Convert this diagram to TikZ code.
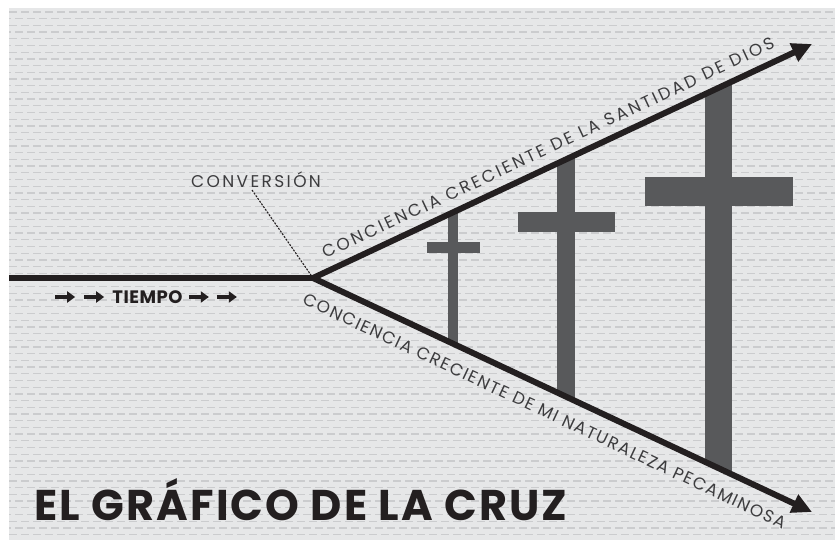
\documentclass[tikz,border=0pt]{standalone}
\usepackage{fontspec}
\setmainfont{Poppins}
\usetikzlibrary{arrows.meta,calc}
\definecolor{bggrey}{HTML}{E6E7E8}
\definecolor{dashgrey}{HTML}{CBCCCE}
\definecolor{crossgrey}{HTML}{58595B}
\definecolor{ink}{HTML}{231F20}
\definecolor{txtgrey}{HTML}{3C3C3E}
\tikzset{
  bgdash/.style={draw=dashgrey, line width=1.3pt, dash pattern=on 8pt off 4pt},
  mainline/.style={draw=ink, line width=6pt},
  arrowline/.style={mainline, -{Triangle[length=20pt,width=19pt]}},
  smallarrow/.style={draw=ink, line width=3.2pt, -{Triangle[length=8pt,width=11pt]}},
  crossfill/.style={fill=crossgrey},
  slopetext/.style={text=txtgrey, inner sep=0pt},
  convline/.style={draw=ink, line width=1.1pt, dash pattern=on 2pt off 1.3pt},
}
\begin{document}
\begin{tikzpicture}[x=1pt,y=-1pt]
\useasboundingbox (0,0) rectangle (835,540);
\fill[white] (0,0) rectangle (835,540);
\fill[bggrey] (9,8) rectangle (835,540);
\foreach \i in {0,...,39} {
  \draw[bgdash] (9,12+13.4*\i) -- (835,12+13.4*\i);
  \draw[bgdash, dash phase=6pt] (9,18.7+13.4*\i) -- (835,18.7+13.4*\i);
}
\coordinate (L) at (9,278);
\coordinate (V) at (313,278);
\coordinate (TU) at (812,44);
\coordinate (TD) at (812,512);
% crosses
\begin{scope}
  \clip (V) -- ($(V)!1.3!(TU)$) -- ($(V)!1.3!(TD)$) -- cycle;
  \fill[crossfill] (448,150) rectangle (458,400);
  \fill[crossfill] (427,242) rectangle (480,253);
  \fill[crossfill] (557,100) rectangle (575,450);
  \fill[crossfill] (518,212) rectangle (615,232);
  \fill[crossfill] (705,20) rectangle (732,520);
  \fill[crossfill] (645,177) rectangle (793,206);
\end{scope}
% main lines
\draw[mainline, line cap=butt] (L) -- (V);
\draw[arrowline] (V) -- (TU);
\draw[arrowline] (V) -- (TD);
\node[slopetext, rotate=25.13, font=\fontsize{17}{17}\selectfont\addfontfeatures{LetterSpace=15.5}] (up) at (548,148)
  {CONCIENCIA CRECIENTE DE LA SANTIDAD DE DIOS};
\node[slopetext, rotate=-25.13, font=\fontsize{17}{17}\selectfont\addfontfeatures{LetterSpace=9}] (down) at (544.5,411)
  {CONCIENCIA CRECIENTE DE MI NATURALEZA PECAMINOSA};
% conversion
\node[text=txtgrey, font=\fontsize{17}{17}\selectfont\addfontfeatures{LetterSpace=14}, inner sep=1pt] (conv) at (256,180) {CONVERSIÓN};
\draw[convline] (252,190) -- (V);
% tiempo
\node[text=ink, font=\fontsize{18}{18}\selectfont\bfseries\addfontfeatures{LetterSpace=3}, inner sep=0pt] (tiempo) at (147.5,297) {TIEMPO};
\draw[smallarrow] ($(tiempo.west)+(-57,0)$) -- ($(tiempo.west)+(-37,0)$);
\draw[smallarrow] ($(tiempo.west)+(-28,0)$) -- ($(tiempo.west)+(-8,0)$);
\draw[smallarrow] ($(tiempo.east)+(6,0)$) -- ($(tiempo.east)+(26,0)$);
\draw[smallarrow] ($(tiempo.east)+(34,0)$) -- ($(tiempo.east)+(54,0)$);
% title
\node[anchor=base west, text=ink, font=\fontsize{43}{43}\selectfont\bfseries\addfontfeatures{LetterSpace=5}, inner sep=0pt] (title) at (34,520) {EL GRÁFICO DE LA CRUZ};
\end{tikzpicture}
\end{document}
